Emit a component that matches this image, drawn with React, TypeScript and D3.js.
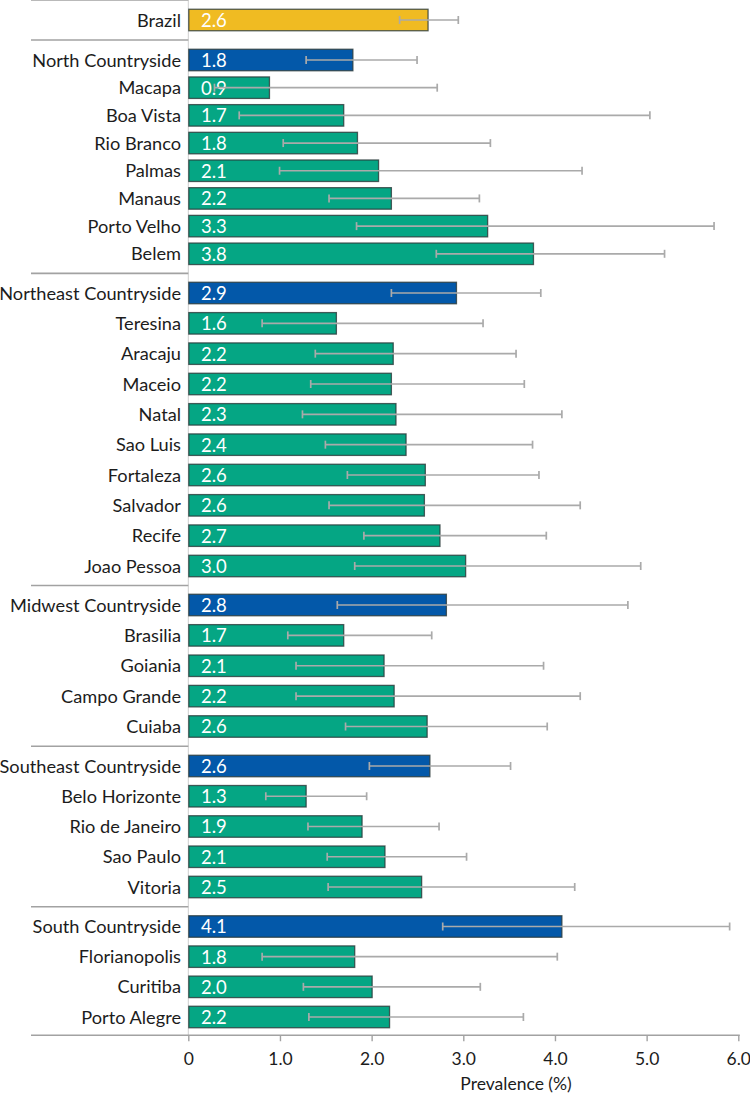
import React from "react";
import * as d3 from "d3";

// ---- data ----
const groupIds: number[] = [0, 1, 1, 1, 1, 1, 1, 1, 1, 2, 2, 2, 2, 2, 2, 2, 2, 2, 2, 3, 3, 3, 3, 3, 4, 4, 4, 4, 4, 5, 5, 5, 5];
const categories: string[] = [
  "Brazil",
  "North Countryside", "Macapa", "Boa Vista", "Rio Branco", "Palmas", "Manaus", "Porto Velho", "Belem",
  "Northeast Countryside", "Teresina", "Aracaju", "Maceio", "Natal", "Sao Luis", "Fortaleza", "Salvador", "Recife", "Joao Pessoa",
  "Midwest Countryside", "Brasilia", "Goiania", "Campo Grande", "Cuiaba",
  "Southeast Countryside", "Belo Horizonte", "Rio de Janeiro", "Sao Paulo", "Vitoria",
  "South Countryside", "Florianopolis", "Curitiba", "Porto Alegre",
];
const kinds: string[] = [
  "national",
  "countryside", "capital", "capital", "capital", "capital", "capital", "capital", "capital",
  "countryside", "capital", "capital", "capital", "capital", "capital", "capital", "capital", "capital", "capital",
  "countryside", "capital", "capital", "capital", "capital",
  "countryside", "capital", "capital", "capital", "capital",
  "countryside", "capital", "capital", "capital",
];
const values: number[] = [
  2.61,
  1.79, 0.88, 1.69, 1.84, 2.07, 2.21, 3.26, 3.76,
  2.92, 1.61, 2.23, 2.21, 2.26, 2.37, 2.58, 2.57, 2.74, 3.02,
  2.81, 1.69, 2.13, 2.24, 2.6,
  2.63, 1.28, 1.89, 2.14, 2.54,
  4.07, 1.81, 2.0, 2.19,
];
const ciLow: number[] = [
  2.3,
  1.28, 0.28, 0.55, 1.03, 0.99, 1.53, 1.83, 2.7,
  2.21, 0.8, 1.38, 1.33, 1.24, 1.49, 1.73, 1.53, 1.91, 1.81,
  1.62, 1.08, 1.17, 1.17, 1.71,
  1.97, 0.84, 1.3, 1.51, 1.52,
  2.77, 0.8, 1.25, 1.31,
];
const ciHigh: number[] = [
  2.94,
  2.49, 2.71, 5.03, 3.29, 4.29, 3.17, 5.73, 5.19,
  3.84, 3.21, 3.57, 3.66, 4.07, 3.75, 3.82, 4.27, 3.9, 4.93,
  4.79, 2.65, 3.87, 4.27, 3.91,
  3.51, 1.94, 2.73, 3.03, 4.21,
  5.9, 4.02, 3.18, 3.65,
];
const tickValues: number[] = [0, 1, 2, 3, 4, 5, 6];
const tickLabels: string[] = ["0", "1.0", "2.0", "3.0", "4.0", "5.0", "6.0"];
const axisTitle = "Prevalence (%)";

// ---- layout (not data) ----
const W = 750;
const H = 1094;
const groupCenters: [number, number][] = [
  [20, 20],
  [60, 253.8],
  [293, 566],
  [605, 726.5],
  [766, 887],
  [926.5, 1017],
];
const barH = 21.5;
const colors: Record<string, string> = {
  national: "#F0BB22",
  countryside: "#0358A9",
  capital: "#05A684",
};
const FONT = "Lato, 'Open Sans', sans-serif";

export default function App() {
  const x = d3.scaleLinear().domain([0, 6]).range([188.8, 738.8]);

  const groupScales = groupCenters.map((rng, gi) => {
    const names = categories.filter((_, i) => groupIds[i] === gi);
    return d3.scalePoint<string>().domain(names).range(rng).padding(0);
  });
  const yOf = (i: number) => groupScales[groupIds[i]](categories[i]) as number;

  const nGroups = groupCenters.length;
  const idx = categories.map((_, i) => i);
  const groupTop = d3.range(nGroups).map((g) => d3.min(idx.filter((i) => groupIds[i] === g), (i) => yOf(i))! - barH / 2);
  const groupBottom = d3.range(nGroups).map((g) => d3.max(idx.filter((i) => groupIds[i] === g), (i) => yOf(i))! + barH / 2);
  const sepYs = [groupTop[0] - 9.3];
  for (let g = 1; g < nGroups; g++) sepYs.push((groupBottom[g - 1] + groupTop[g]) / 2);
  const axisY = groupBottom[nGroups - 1] + 7.5;
  const fmt = d3.format(".1f");

  return (
    <svg width={W} height={H} style={{ position: "absolute", left: 0, top: 0, background: "#fff" }} fontFamily={FONT}>
      <line x1={x(0) - 0.5} x2={x(0) - 0.5} y1={0} y2={axisY} stroke="#cfcfcf" strokeWidth={1} />
      {sepYs.map((y, k) => (
        <line key={"s" + k} x1={31} x2={x(0) - 0.5} y1={y} y2={y} stroke="#a2a2a2" strokeWidth={1.6} />
      ))}
      {categories.map((c, i) => {
        const cy = yOf(i);
        return (
          <g key={c}>
            <rect
              x={x(0)}
              y={cy - barH / 2}
              width={x(values[i]) - x(0)}
              height={barH}
              fill={colors[kinds[i]]}
              stroke="#2a3a3a"
              strokeOpacity={0.8}
              strokeWidth={1.3}
            />
            <text x={181} y={cy} dy="0.36em" textAnchor="end" fontSize={18.2} fill="#1c1c1c">
              {c}
            </text>
            <text x={201} y={cy} dy="0.37em" fontSize={18.5} fill="#ffffff">
              {fmt(values[i])}
            </text>
            <g stroke="#aaaaaa" strokeWidth={1.7}>
              <line x1={x(ciLow[i])} x2={x(ciHigh[i])} y1={cy} y2={cy} />
              <line x1={x(ciLow[i])} x2={x(ciLow[i])} y1={cy - 4} y2={cy + 4} />
              <line x1={x(ciHigh[i])} x2={x(ciHigh[i])} y1={cy - 4} y2={cy + 4} />
            </g>
          </g>
        );
      })}
      <line x1={31} x2={x(6) + 1} y1={axisY} y2={axisY} stroke="#a2a2a2" strokeWidth={1.6} />
      {tickValues.map((t, k) => (
        <g key={"t" + k}>
          <line x1={x(t)} x2={x(t)} y1={axisY} y2={axisY + 6} stroke="#a2a2a2" strokeWidth={1.4} />
          <text x={x(t)} y={axisY + 23} dy="0.36em" textAnchor="middle" fontSize={17.5} fill="#1c1c1c">
            {tickLabels[k]}
          </text>
        </g>
      ))}
      <text x={x(3.57)} y={axisY + 48} dy="0.36em" textAnchor="middle" fontSize={17.5} fill="#1c1c1c">
        {axisTitle}
      </text>
    </svg>
  );
}
